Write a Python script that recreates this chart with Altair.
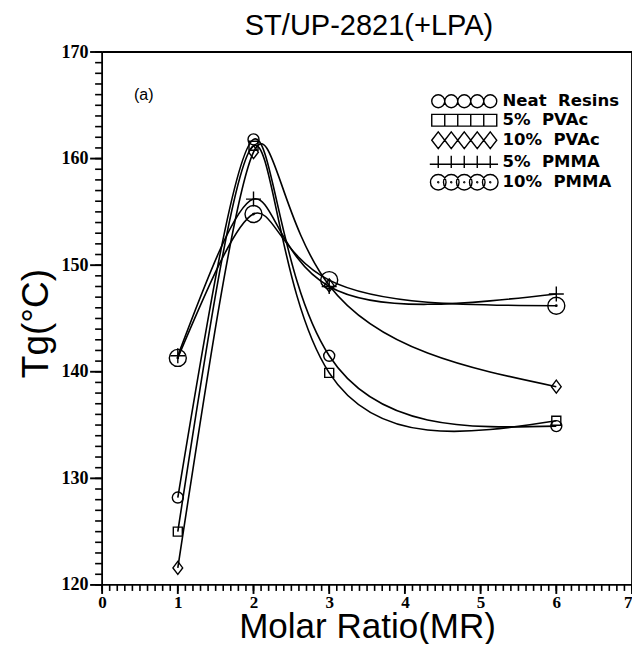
import altair as alt
import pandas as pd

MR = [1, 2, 3, 6]
SERIES = ["Neat Resins", "5% PVAc", "10% PVAc", "5% PMMA", "10% PMMA"]
TG_NEAT = [128.2, 161.8, 141.5, 134.9]
TG_PVAC5 = [125.0, 161.2, 139.9, 135.4]
TG_PVAC10 = [121.6, 160.6, 148.1, 138.6]
TG_PMMA5 = [141.5, 156.2, 148.0, 147.3]
TG_PMMA10 = [141.3, 154.8, 148.6, 146.2]
X_RANGE = [0, 7]
Y_RANGE = [120, 170]
X_MAJOR = [0, 1, 2, 3, 4, 5, 6, 7]
X_MINOR = [i / 10 for i in range(0, 71)]
Y_MAJOR = [120, 130, 140, 150, 160, 170]
Y_MINOR = list(range(120, 171))
ANNOT_TEXT = ["(a)"]
ANNOT_X = [0.55]
ANNOT_Y = [166.0]

# the view extends a little left of / below the frame so the outward ticks stay inside it
X_LO, Y_LO = -0.16, 119.15
W, H = 542, 542
PX_PER_X = W / (X_RANGE[1] - X_LO)
PX_PER_Y = H / (Y_RANGE[1] - Y_LO)

rows = []
for name, vals in zip(SERIES, [TG_NEAT, TG_PVAC5, TG_PVAC10, TG_PMMA5, TG_PMMA10]):
    for m, v in zip(MR, vals):
        rows.append({"series": name, "mr": m, "tg": v})
df = pd.DataFrame(rows)
annot = pd.DataFrame({"t": ANNOT_TEXT, "x": ANNOT_X, "y": ANNOT_Y})

# marker shapes for the data points
DIAMOND = "M -0.75 0 L 0 -1 L 0.75 0 L 0 1 Z"
PLUS = "M -1 0 L 1 0 M 0 -1 L 0 1"
DOTCIRCLE = ("M -1 0 A 1 1 0 1 0 1 0 A 1 1 0 1 0 -1 0 Z "
             "M -0.08 0 A 0.08 0.08 0 1 0 0.08 0 A 0.08 0.08 0 1 0 -0.08 0 Z")
POINT_SHAPES = ["circle", "square", DIAMOND, PLUS, DOTCIRCLE]
POINT_SIZES = [121, 81, 169, 225, 289]

# legend glyphs: five markers in a row
centers = [-4, -2, 0, 2, 4]
LG_CIRC = " ".join(f"M {c-1} 0 A 1 1 0 1 0 {c+1} 0 A 1 1 0 1 0 {c-1} 0 Z" for c in centers)
LG_SQ = "M -5 -0.9 H 5 V 0.9 H -5 Z " + " ".join(f"M {c} -0.9 V 0.9" for c in [-3, -1, 1, 3])
LG_DIA = " ".join(f"M {c-1} 0 L {c} -1.3 L {c+1} 0 L {c} 1.3 Z" for c in centers)
LG_PLUS = "M -5.3 0.3 H 5.2 " + " ".join(f"M {c} -1 V 0.9" for c in centers)
LG_DOT = " ".join(
    f"M {c-1.2} 0 A 1.2 1.2 0 1 0 {c+1.2} 0 A 1.2 1.2 0 1 0 {c-1.2} 0 Z "
    f"M {c-0.08} 0 A 0.08 0.08 0 1 0 {c+0.08} 0 A 0.08 0.08 0 1 0 {c-0.08} 0 Z"
    for c in centers)
LEGEND_SHAPES = [LG_CIRC, LG_SQ, LG_DIA, LG_PLUS, LG_DOT]

x_scale = alt.Scale(domain=[X_LO, X_RANGE[1]], nice=False, zero=False)
y_scale = alt.Scale(domain=[Y_LO, Y_RANGE[1]], nice=False, zero=False)

x_axis = alt.X(
    "mr:Q",
    scale=x_scale,
    axis=alt.Axis(
        orient="bottom",
        values=X_MAJOR,
        format="d",
        ticks=False,
        tickSize=0,
        domain=False,
        grid=False,
        labelOverlap=False,
        title="Molar Ratio(MR)",
        labelFont="Liberation Serif",
        labelFontWeight="bold",
        labelFontSize=17,
        labelPadding=0,
        titleFont="Liberation Sans",
        titleFontWeight="normal",
        titleFontSize=35,
        titleBaseline="alphabetic",
        titleX=(W * (0 - X_LO) / (X_RANGE[1] - X_LO) + W) / 2,
        titleY=43,
    ),
)
y_axis = alt.Y(
    "tg:Q",
    scale=y_scale,
    axis=alt.Axis(
        orient="left",
        values=Y_MAJOR,
        format="d",
        ticks=False,
        tickSize=0,
        domain=False,
        grid=False,
        labelOverlap=False,
        title="Tg(°C)",
        labelFont="Liberation Serif",
        labelFontWeight="bold",
        labelFontSize=18,
        labelPadding=2,
        titleFont="Liberation Sans",
        titleFontWeight="normal",
        titleFontSize=37,
        titlePadding=6,
    ),
)

base = alt.Chart(df)

lines = base.mark_line(interpolate="natural", color="black", strokeWidth=1.6).encode(
    x=x_axis, y=y_axis, detail="series:N"
)

x_plain = alt.X("mr:Q", scale=x_scale, axis=None)
y_plain = alt.Y("tg:Q", scale=y_scale, axis=None)

points = base.mark_point(filled=False, color="black", strokeWidth=1.4, opacity=1).encode(
    x=x_plain,
    y=y_plain,
    shape=alt.Shape("series:N", scale=alt.Scale(domain=SERIES, range=POINT_SHAPES), legend=None),
    size=alt.Size("series:N", scale=alt.Scale(type="ordinal", domain=SERIES, range=POINT_SIZES), legend=None),
)

legend_layer = base.mark_point(filled=False, color="black", strokeWidth=1.4, opacity=0).encode(
    x=x_plain,
    y=y_plain,
    shape=alt.Shape(
        "series:N",
        scale=alt.Scale(domain=SERIES, range=LEGEND_SHAPES),
        legend=alt.Legend(
            title=None,
            orient="none",
            legendX=366,
            legendY=41,
            symbolSize=169,
            symbolOpacity=1,
            symbolStrokeColor="black",
            symbolStrokeWidth=1.4,
            symbolFillColor="transparent",
            labelOffset=30,
            labelExpr="replace(datum.label, ' ', '\u00a0\u00a0')",
            labelFont="DejaVu Sans",
            labelFontWeight="bold",
            labelFontSize=16.5,
            labelColor="black",
            labelLimit=300,
            rowPadding=0,
            padding=0,
        ),
    ),
)

text = alt.Chart(annot).mark_text(
    font="Liberation Sans", fontSize=16, color="black", align="center", baseline="middle"
).encode(
    x=alt.X("x:Q", scale=x_scale, axis=None),
    y=alt.Y("y:Q", scale=y_scale, axis=None),
    text="t:N",
)

# frame (axis lines and box) from the axis ranges
frame_v = alt.Chart(pd.DataFrame({"x": X_RANGE, "y": [Y_RANGE[0]] * 2, "y2": [Y_RANGE[1]] * 2})).mark_rule(
    color="black", strokeWidth=1.8
).encode(x=alt.X("x:Q", scale=x_scale, axis=None), y=alt.Y("y:Q", scale=y_scale, axis=None), y2="y2:Q")
frame_h = alt.Chart(pd.DataFrame({"y": Y_RANGE, "x": [X_RANGE[0]] * 2, "x2": [X_RANGE[1]] * 2})).mark_rule(
    color="black", strokeWidth=1.8
).encode(y=alt.Y("y:Q", scale=y_scale, axis=None), x=alt.X("x:Q", scale=x_scale, axis=None), x2="x2:Q")


# outward tick marks as rules with both ends as fields (like the frame)
def x_ticks(values, length_px):
    d = pd.DataFrame({"x": values})
    d["y"] = Y_RANGE[0]
    d["y2"] = Y_RANGE[0] - length_px / PX_PER_Y
    return d


def y_ticks(values, length_px):
    d = pd.DataFrame({"y": values})
    d["x"] = X_RANGE[0]
    d["x2"] = X_RANGE[0] - length_px / PX_PER_X
    return d


def vrules(d, w):
    return alt.Chart(d).mark_rule(color="black", strokeWidth=w).encode(
        x=alt.X("x:Q", scale=x_scale, axis=None),
        y=alt.Y("y:Q", scale=y_scale, axis=None),
        y2="y2:Q",
    )


def hrules(d, w):
    return alt.Chart(d).mark_rule(color="black", strokeWidth=w).encode(
        y=alt.Y("y:Q", scale=y_scale, axis=None),
        x=alt.X("x:Q", scale=x_scale, axis=None),
        x2="x2:Q",
    )


tx_minor = vrules(x_ticks(X_MINOR, 6), 1.6)
tx_major = vrules(x_ticks(X_MAJOR, 9), 1.9)
ty_minor = hrules(y_ticks(Y_MINOR, 7), 1.6)
ty_major = hrules(y_ticks(Y_MAJOR, 12), 1.9)

chart = (
    alt.layer(frame_v, frame_h, tx_minor, tx_major, ty_minor, ty_major,
              lines, points, legend_layer, text)
    .resolve_scale(shape="independent", size="independent")
    .resolve_axis(x="independent", y="independent")
    .properties(
        width=W,
        height=H,
        autosize=alt.AutoSizeParams(type="none"),
        padding={"left": 82, "top": 44, "right": 0, "bottom": 50},
        title=alt.Title(
            "ST/UP-2821(+LPA)",
            font="Liberation Sans",
            fontWeight="normal",
            fontSize=29,
            color="black",
            offset=2,
            frame="group",
            dx=8,
            anchor="middle",
        ),
    )
    .configure_view(stroke="transparent", strokeWidth=0)
    .configure_axis(labelColor="black", titleColor="black")
)

chart.save("out.html", embed_options={"renderer": "svg", "actions": False})
